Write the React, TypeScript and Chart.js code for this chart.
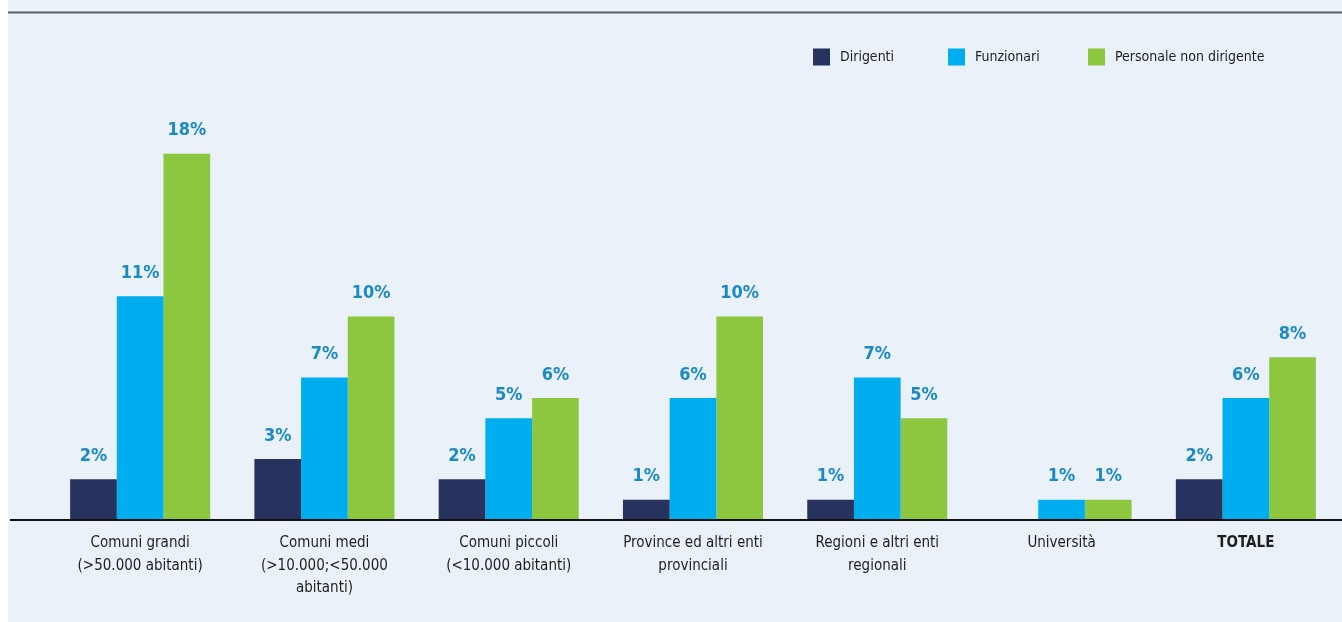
import React, { useEffect, useRef } from "react";
import { Chart, registerables } from "chart.js";

Chart.register(...registerables);

const categories: string[][] = [
  ["Comuni grandi", "(>50.000 abitanti)"],
  ["Comuni medi", "(>10.000;<50.000", "abitanti)"],
  ["Comuni piccoli", "(<10.000 abitanti)"],
  ["Province ed altri enti", "provinciali"],
  ["Regioni e altri enti", "regionali"],
  ["Università"],
  ["TOTALE"],
];

const dirigenti: (number | null)[] = [2, 3, 2, 1, 1, null, 2];
const funzionari: number[] = [11, 7, 5, 6, 7, 1, 6];
const personaleNonDirigente: number[] = [18, 10, 6, 10, 5, 1, 8];

const seriesNames = ["Dirigenti", "Funzionari", "Personale non dirigente"];
const seriesColors = ["#27325E", "#00AEEF", "#8DC63F"];

const FONT = "'DejaVu Sans', sans-serif";

const decorPlugin = {
  id: "decor",
  beforeDraw(chart: any) {
    const { ctx, width } = chart;
    ctx.save();
    ctx.strokeStyle = "#5B6168";
    ctx.lineWidth = 2;
    ctx.beginPath();
    ctx.moveTo(0, 12.5);
    ctx.lineTo(width, 12.5);
    ctx.stroke();
    ctx.restore();
  },
  afterDatasetsDraw(chart: any) {
    const { ctx, width, chartArea } = chart;
    ctx.save();
    // axis line
    ctx.strokeStyle = "#111111";
    ctx.lineWidth = 2;
    ctx.beginPath();
    ctx.moveTo(2, chartArea.bottom);
    ctx.lineTo(width, chartArea.bottom);
    ctx.stroke();

    // data labels
    ctx.fillStyle = "#1B8AC4";
    ctx.font = `bold condensed 18px ${FONT}`;
    ctx.textAlign = "center";
    ctx.textBaseline = "middle";
    chart.data.datasets.forEach((ds: any, di: number) => {
      const meta = chart.getDatasetMeta(di);
      meta.data.forEach((bar: any, i: number) => {
        const v = ds.data[i];
        if (v === null || v === undefined) return;
        ctx.fillText(`${v}%`, bar.x, bar.y - 23);
      });
    });

    // legend
    const legendX = [805, 940, 1080];
    const legendY = 57;
    ctx.font = `normal condensed 14px ${FONT}`;
    ctx.textAlign = "left";
    chart.data.datasets.forEach((ds: any, di: number) => {
      const x = legendX[di];
      ctx.fillStyle = ds.backgroundColor;
      ctx.fillRect(x, legendY - 8.5, 17, 17);
      ctx.fillStyle = "#1E1E1E";
      ctx.fillText(ds.label, x + 27, legendY);
    });
    ctx.restore();
  },
};

export default function App() {
  const canvasRef = useRef<HTMLCanvasElement | null>(null);

  useEffect(() => {
    if (!canvasRef.current) return;
    const chart = new Chart(canvasRef.current, {
      type: "bar",
      data: {
        labels: categories,
        datasets: [
          { label: seriesNames[0], data: dirigenti, backgroundColor: seriesColors[0] },
          { label: seriesNames[1], data: funzionari, backgroundColor: seriesColors[1] },
          { label: seriesNames[2], data: personaleNonDirigente, backgroundColor: seriesColors[2] },
        ],
      },
      options: {
        animation: false,
        responsive: false,
        maintainAspectRatio: false,
        layout: { padding: { left: 40, right: 4, top: 113, bottom: 0 } },
        datasets: { bar: { categoryPercentage: 0.76, barPercentage: 1.0 } },
        plugins: {
          legend: { display: false },
          tooltip: { enabled: false },
        },
        scales: {
          x: {
            grid: { display: false, drawTicks: false },
            border: { display: false },
            afterFit: (scale: any) => {
              scale.height = 102;
            },
            ticks: {
              padding: 12,
              color: "#1E1E1E",
              maxRotation: 0,
              autoSkip: false,
              font: (ctx: any) => ({
                family: FONT,
                size: 15,
                lineHeight: 1.5,
                weight: ctx.index === 6 ? "bold condensed" : "normal condensed",
              }),
            },
          },
          y: {
            display: false,
            min: 0,
            max: 20,
          },
        },
      },
      plugins: [decorPlugin],
    });
    return () => chart.destroy();
  }, []);

  return (
    <div
      style={{
        position: "absolute",
        left: 8,
        top: 0,
        width: 1334,
        height: 622,
        background: "#EAF1F8",
      }}
    >
      <canvas ref={canvasRef} width={1334} height={622} style={{ display: "block" }} />
    </div>
  );
}
